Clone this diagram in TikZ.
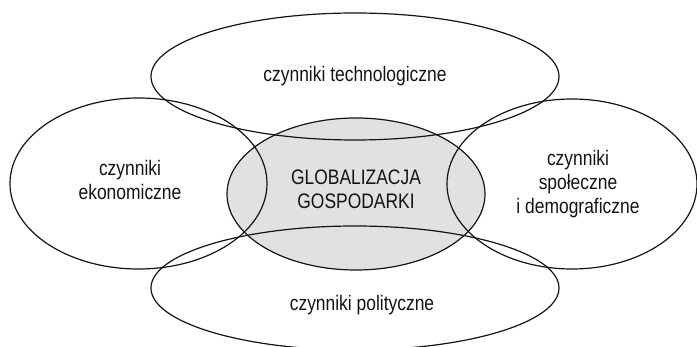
\documentclass[tikz,border=0pt]{standalone}
\usepackage{fontspec}
\setmainfont{Liberation Sans}[FakeStretch=0.83]
\usetikzlibrary{shapes.geometric}

\definecolor{globfill}{RGB}{225,225,228}
\definecolor{inkgray}{RGB}{20,20,20}

\begin{document}
\begin{tikzpicture}[x=1pt,y=-1pt]
\useasboundingbox (0,0) rectangle (697,347);

% gray core first, outlines on top
\fill[globfill] (356,194) ellipse [x radius=129, y radius=76];

\begin{scope}[every node/.style={ellipse,draw=inkgray,line width=1.2pt,inner sep=0pt}]
    \node[minimum width=408pt,minimum height=127pt] (tech) at (355,76.5) {};
    \node[minimum width=257pt,minimum height=171pt] (econ) at (138.5,183.5) {};
    \node[minimum width=250pt,minimum height=170pt] (soc) at (572,184) {};
    \node[minimum width=258pt,minimum height=152pt] (glob) at (356,194) {};
    \node[minimum width=408pt,minimum height=124pt] (pol) at (355,288) {};
\end{scope}

\begin{scope}[every node/.style={align=center,text=inkgray,inner sep=0pt,
              font=\fontsize{21}{24}\selectfont}]
    \node (techtxt) at (355,76) {czynniki technologiczne};
    \node (econtxt) at (130,180) {czynniki\\ekonomiczne};
    \node (soctxt) at (578,184) {czynniki\\społeczne\\i demograficzne};
    \node (globtxt) at (356,189) {GLOBALIZACJA\\GOSPODARKI};
    \node (poltxt) at (362,305) {czynniki polityczne};
\end{scope}
\end{tikzpicture}
\end{document}
